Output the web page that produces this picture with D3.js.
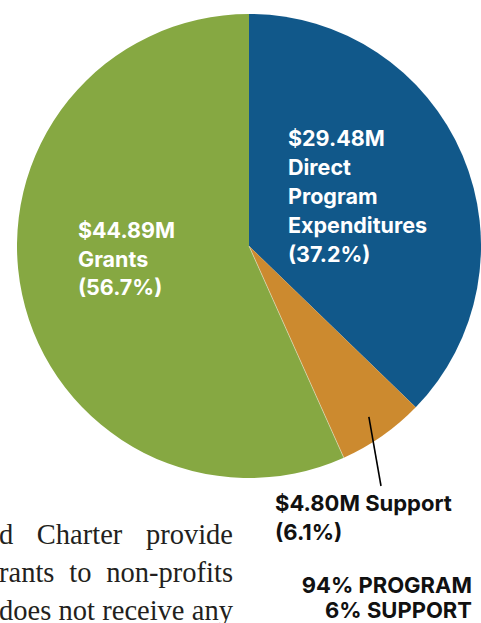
<!DOCTYPE html>
<html>
<head>
  <meta charset="utf-8">
  <script src="https://d3js.org/d3.v7.min.js"></script>
  <style>
    body { margin: 0; background: #fff; }
    .lbl { font-family: Inter, "Liberation Sans", sans-serif; font-weight: 700; font-size: 21.5px; }
    .lbl-out { font-size: 22px; }
    .body-text { font-family: "Liberation Serif", serif; font-size: 28.5px; fill: #231f20; }
  </style>
</head>
<body>
  <div id="chart"></div>

  <script type="text/javascript">
    // data
    var categories = ["Direct Program Expenditures", "Support", "Grants"];
    var amounts = [29.48, 4.80, 44.89];      // $M
    var shares = [37.2, 6.1, 56.7];          // % of total
    var summaryLabels = ["94% PROGRAM", "6% SUPPORT"];
    var bodyLines = ["d Charter provide", "rants to non-profits", "does not receive any"];

    var width = 481, height = 623;
    var cx = 249, cy = 246, radius = 232;

    var color = d3.scaleOrdinal()
      .domain(categories)
      .range(["#11588a", "#cc8a2f", "#86a842"]);

    var svg = d3.select('#chart')
                .append('svg')
                  .attr('width', width)
                  .attr('height', height);

    var pie = d3.pie().sort(null).value(function(d) { return d.amount; });
    var arc = d3.arc().innerRadius(0).outerRadius(radius);

    var data = categories.map(function(c, i) {
      return {name: c, amount: amounts[i], share: shares[i]};
    });
    var arcs = pie(data);

    var g = svg.append('g')
               .attr('transform', 'translate(' + cx + ',' + cy + ')');

    g.selectAll('path')
      .data(arcs)
      .enter().append('path')
        .attr('d', arc)
        .attr('fill', function(d) { return color(d.data.name); });

    // thin light seam between support and grants
    var seam = arcs[1].endAngle;
    g.append('line')
      .attr('x1', 0).attr('y1', 0)
      .attr('x2', radius * Math.sin(seam))
      .attr('y2', -radius * Math.cos(seam))
      .attr('stroke', '#e8e0c8').attr('stroke-width', 0.6);

    function money(v) { return '$' + v.toFixed(2) + 'M'; }
    function pct(v) { return '(' + v.toFixed(1) + '%)'; }

    var blueLines = [money(amounts[0]), "Direct", "Program", "Expenditures", pct(shares[0])];
    var greenLines = [money(amounts[2]), "Grants", pct(shares[2])];

    function block(lines, x, y, fill, lh) {
      var t = svg.append('text')
                 .attr('class', 'lbl')
                 .attr('fill', fill);
      lines.forEach(function(s, i) {
        t.append('tspan').attr('x', x).attr('y', y + i * lh).text(s);
      });
      return t;
    }

    // labels inside the slices
    block(blueLines, cx + 39, cy - 100, '#fff', 29);
    block(greenLines, cx - 171, cy - 8, '#fff', 28.5);

    // support label below the pie with leader line
    var supX = 275, supY = 511;
    block([money(amounts[1]) + " Support", pct(shares[1])], supX, supY, '#111', 28.5)
      .classed('lbl-out', true);

    var mid = (arcs[1].startAngle + arcs[1].endAngle) / 2;
    var r0 = radius * 0.9;
    svg.append('line')
      .attr('x1', cx + r0 * Math.sin(mid))
      .attr('y1', cy - r0 * Math.cos(mid))
      .attr('x2', supX + 106)
      .attr('y2', supY - 25)
      .attr('stroke', '#000')
      .attr('stroke-width', 1.6);

    // program / support summary
    var sum = svg.append('text')
                 .attr('class', 'lbl lbl-out')
                 .attr('fill', '#111')
                 .attr('text-anchor', 'end');
    summaryLabels.forEach(function(s, i) {
      sum.append('tspan').attr('x', 472).attr('y', 593 + i * 24.5).text(s);
    });

    // justified body copy running off the left edge
    var right = 233;
    bodyLines.forEach(function(line, i) {
      var words = line.split(' ');
      var y = 544 + i * 38;
      var tmp = svg.append('g');
      var widths = words.map(function(w) {
        var t = tmp.append('text').attr('class', 'body-text').text(w);
        return t.node().getComputedTextLength();
      });
      var space = tmp.append('text').attr('class', 'body-text').text('a a').node().getComputedTextLength()
                - tmp.append('text').attr('class', 'body-text').text('aa').node().getComputedTextLength();
      tmp.remove();
      var total = d3.sum(widths);
      var left = Math.min(-1, right - total - space * (words.length - 1));
      var gap = (right - left - total) / (words.length - 1);
      var x = left;
      words.forEach(function(w, j) {
        svg.append('text')
          .attr('class', 'body-text')
          .attr('x', x)
          .attr('y', y)
          .text(w);
        x += widths[j] + gap;
      });
    });
  </script>
</body>
</html>
